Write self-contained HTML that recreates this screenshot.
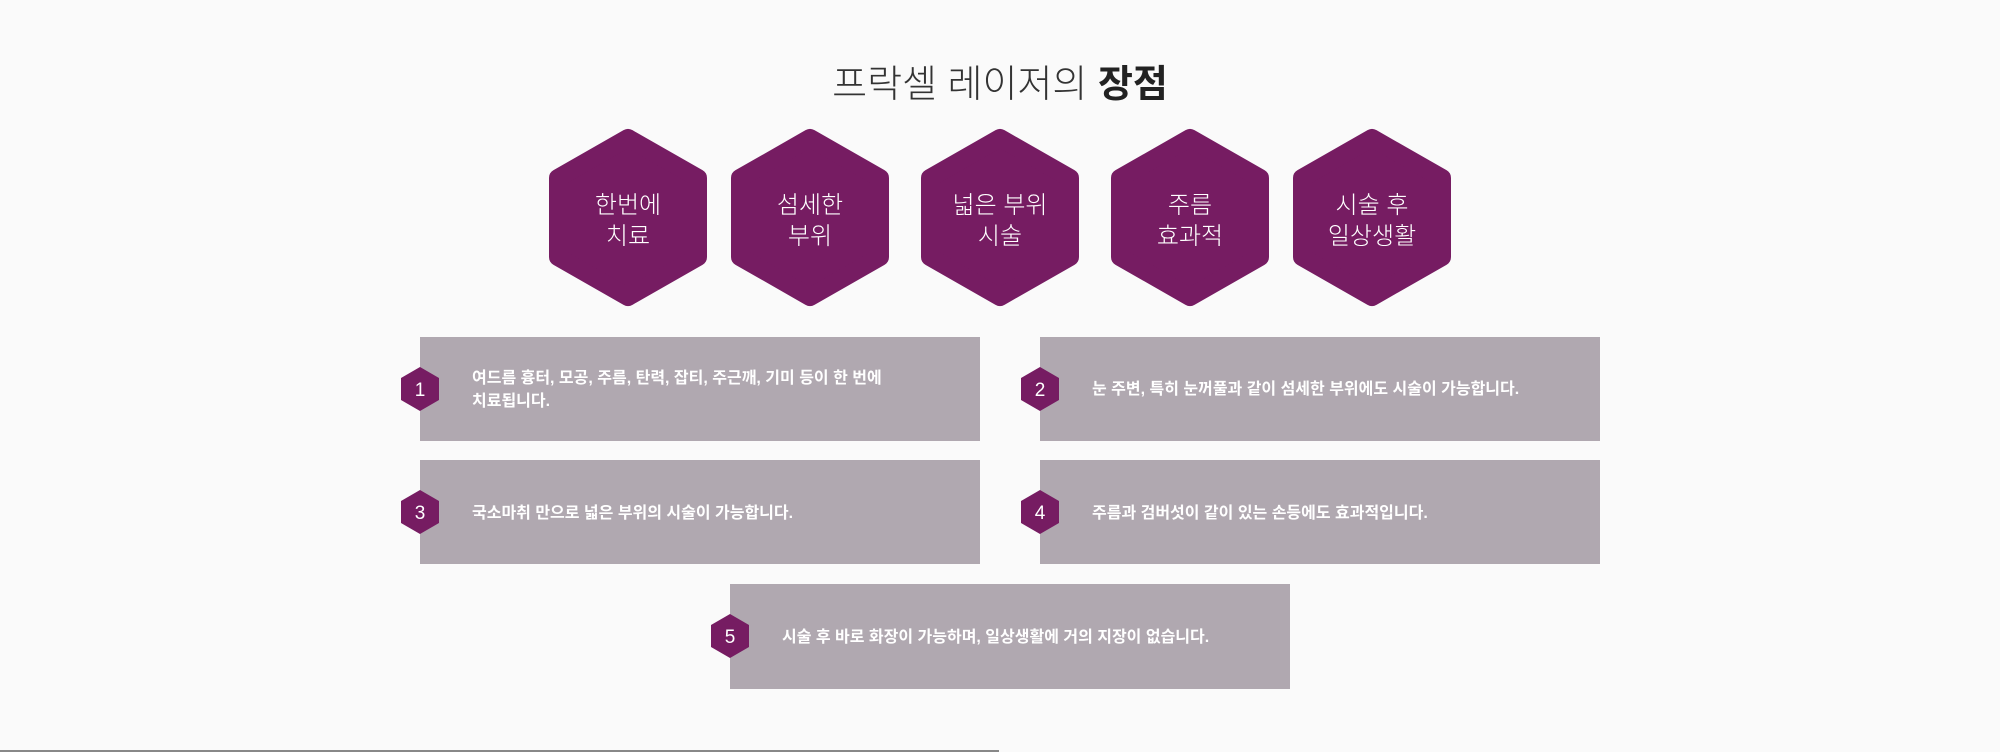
<!DOCTYPE html>
<html><head><meta charset="utf-8"><style>
html,body{margin:0;padding:0;background:#fafafa;}
svg{display:block}
text{font-family:"Liberation Sans","Noto Sans CJK KR",sans-serif;}
</style></head><body>
<svg width="2000" height="752" viewBox="0 0 2000 752" xmlns="http://www.w3.org/2000/svg">
<rect width="2000" height="752" fill="#fafafa"/>
<text x="1000" y="97" text-anchor="middle" font-size="38" fill="#333" font-weight="300">프락셀 레이저의 <tspan font-weight="700" fill="#222">장점</tspan></text>
<g fill="#761c62" stroke="#761c62" stroke-width="18" stroke-linejoin="round">
<polygon points="628,138 698,178 698,257 628,297 558,257 558,178"/>
<polygon points="810,138 880,178 880,257 810,297 740,257 740,178"/>
<polygon points="1000,138 1070,178 1070,257 1000,297 930,257 930,178"/>
<polygon points="1190,138 1260,178 1260,257 1190,297 1120,257 1120,178"/>
<polygon points="1372,138 1442,178 1442,257 1372,297 1302,257 1302,178"/>
</g>
<g fill="#fff" font-size="24" font-weight="300" text-anchor="middle">
<text x="628" y="213">한번에</text><text x="628" y="244">치료</text>
<text x="810" y="213">섬세한</text><text x="810" y="244">부위</text>
<text x="1000" y="213">넓은 부위</text><text x="1000" y="244">시술</text>
<text x="1190" y="213">주름</text><text x="1190" y="244">효과적</text>
<text x="1372" y="213">시술 후</text><text x="1372" y="244">일상생활</text>
</g>
<g fill="#b0a8b0">
<rect x="420" y="337" width="560" height="104"/>
<rect x="1040" y="337" width="560" height="104"/>
<rect x="420" y="460" width="560" height="104"/>
<rect x="1040" y="460" width="560" height="104"/>
<rect x="730" y="584" width="560" height="105"/>
</g>
<g fill="#761c62">
<polygon points="420,367 439,378 439,400 420,411 401,400 401,378"/>
<polygon points="1040,367 1059,378 1059,400 1040,411 1021,400 1021,378"/>
<polygon points="420,490 439,501 439,523 420,534 401,523 401,501"/>
<polygon points="1040,490 1059,501 1059,523 1040,534 1021,523 1021,501"/>
<polygon points="730,614 749,625 749,647 730,658 711,647 711,625"/>
</g>
<g fill="#fff" font-size="19" text-anchor="middle">
<text x="420" y="396">1</text>
<text x="1040" y="396">2</text>
<text x="420" y="519">3</text>
<text x="1040" y="519">4</text>
<text x="730" y="643">5</text>
</g>
<g fill="#fff" font-size="16" font-weight="700">
<text x="472" y="383">여드름 흉터, 모공, 주름, 탄력, 잡티, 주근깨, 기미 등이 한 번에</text>
<text x="472" y="406">치료됩니다.</text>
<text x="1092" y="394">눈 주변, 특히 눈꺼풀과 같이 섬세한 부위에도 시술이 가능합니다.</text>
<text x="472" y="518">국소마취 만으로 넓은 부위의 시술이 가능합니다.</text>
<text x="1092" y="518">주름과 검버섯이 같이 있는 손등에도 효과적입니다.</text>
<text x="782" y="642">시술 후 바로 화장이 가능하며, 일상생활에 거의 지장이 없습니다.</text>
</g>
<rect x="0" y="750" width="999" height="2" fill="#888"/>
</svg>
</body></html>
